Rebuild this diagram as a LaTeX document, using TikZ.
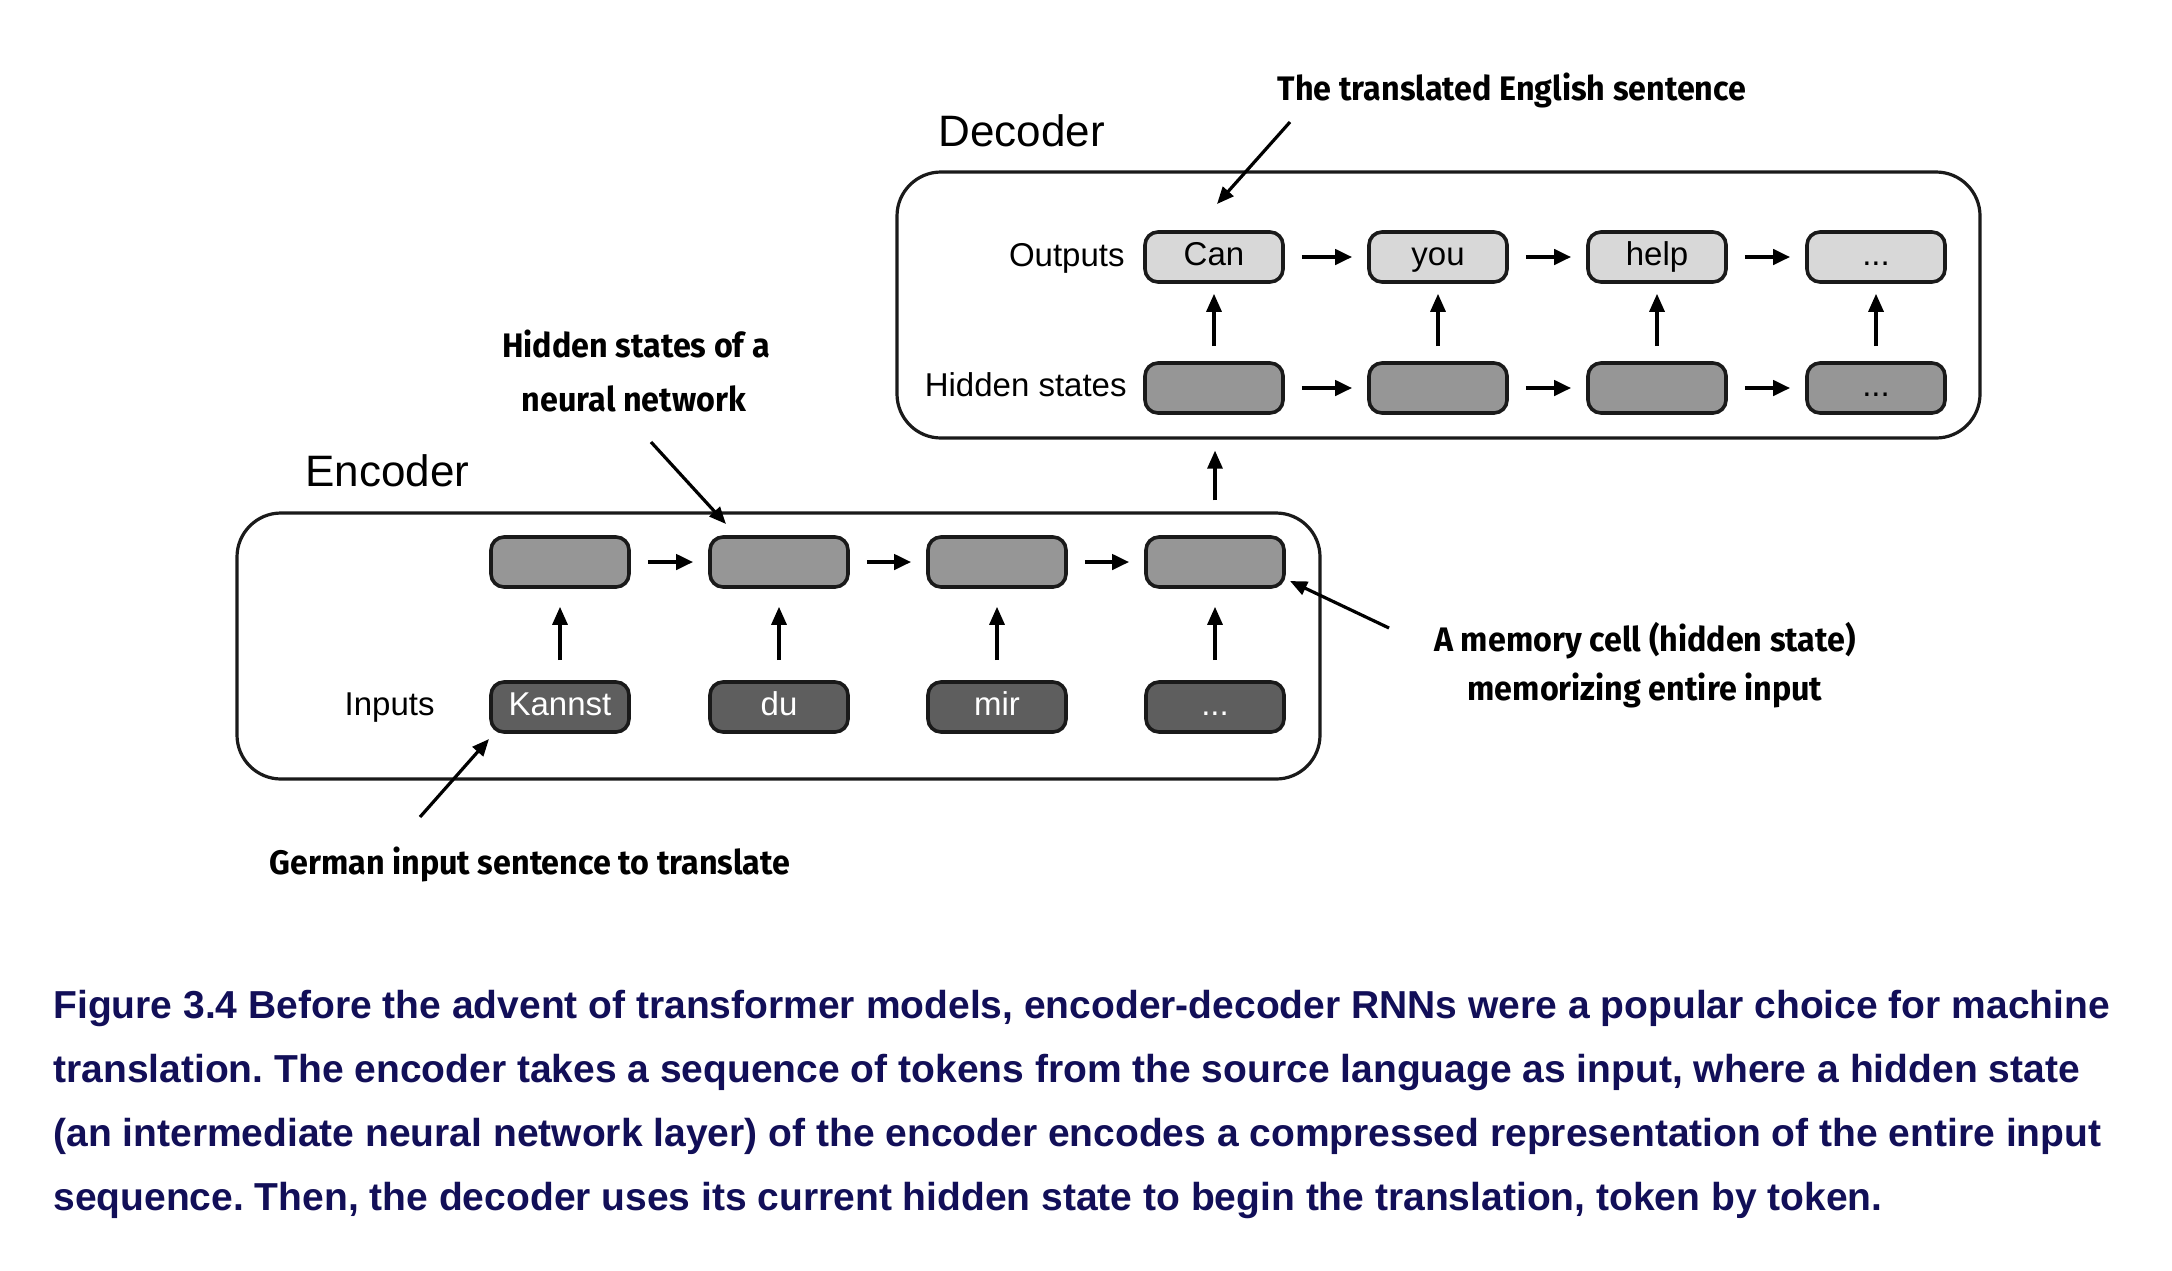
\documentclass[tikz,border=0pt]{standalone}
\usepackage{fontspec}
\setmainfont{Liberation Sans}
\newfontfamily\annotfont[FakeStretch=0.95]{Fira Sans}
\newfontfamily\capfont{Liberation Sans}
\usetikzlibrary{arrows.meta}
\definecolor{navy}{HTML}{120F58}
\definecolor{outgray}{HTML}{D8D8D8}
\definecolor{hidgray}{HTML}{969696}
\definecolor{ingray}{HTML}{5E5E5E}
\definecolor{edge}{HTML}{1A1A1A}
\tikzset{
  cell/.style={draw=edge, line width=1.8pt, rounded corners=6.5pt, minimum width=69pt, minimum height=25pt,
    inner sep=0pt, font=\fontsize{16.5pt}{18pt}\selectfont, text height=11.8pt, text depth=3.4pt},
  outcell/.style={cell, fill=outgray},
  hidcell/.style={cell, fill=hidgray},
  incell/.style={cell, fill=ingray, text=white},
  outerbox/.style={draw=edge, line width=1.6pt, rounded corners=22pt, minimum width=541.5pt, minimum height=133pt, inner sep=0pt},
  harr/.style={-{Triangle[length=8.5pt,width=7.5pt]}, line width=2pt, shorten <=8.5pt, shorten >=7.5pt},
  varr/.style={-{Triangle[length=9pt,width=7.5pt]}, line width=1.6pt},
  annarr/.style={-{Triangle[length=8.5pt,width=7pt]}, line width=1.6pt},
  rowlabel/.style={anchor=base east, inner sep=0pt, font=\fontsize{16.5pt}{18pt}\selectfont},
  titlelabel/.style={anchor=base west, inner sep=0pt, font=\fontsize{22pt}{24pt}\selectfont},
  annot/.style={anchor=base, inner sep=0pt, font=\annotfont\bfseries\fontsize{17pt}{19pt}\selectfont},
  capline/.style={anchor=base west, inner sep=0pt, text=navy, font=\capfont\bfseries\fontsize{19.5pt}{22pt}\selectfont}
}
\begin{document}
\frenchspacing
\begin{tikzpicture}[x=0.5pt,y=-0.5pt]
\useasboundingbox[fill=white] (0,0) rectangle (2172,1270);

% outer boxes
\node[outerbox] (dec) at (1438.5,305) {};
\node[outerbox] (enc) at (778.5,646) {};
\node[titlelabel] (dect) at (938,146) {Decoder};
\node[titlelabel] (enct) at (305,486) {Encoder};

% decoder rows
\node[outcell] (o1) at (1214,257) {Can};
\node[outcell] (o2) at (1438,257) {you};
\node[outcell] (o3) at (1657,257) {help};
\node[outcell] (o4) at (1876,257) {...};
\node[hidcell] (d1) at (1214,388) {};
\node[hidcell] (d2) at (1438,388) {};
\node[hidcell] (d3) at (1657,388) {};
\node[hidcell] (d4) at (1876,388) {...};
\node[rowlabel] (outl) at (1125,266) {Outputs};
\node[rowlabel] (hidl) at (1127,396) {Hidden states};

% encoder rows
\node[hidcell] (e1) at (560,562) {};
\node[hidcell] (e2) at (779,562) {};
\node[hidcell] (e3) at (997,562) {};
\node[hidcell] (e4) at (1215,562) {};
\node[incell] (i1) at (560,707) {Kannst};
\node[incell] (i2) at (779,707) {du};
\node[incell] (i3) at (997,707) {mir};
\node[incell] (i4) at (1215,707) {...};
\node[rowlabel] (inl) at (435,715) {Inputs};

% horizontal arrows
\foreach \a/\b in {o1/o2,o2/o3,o3/o4,d1/d2,d2/d3,d3/d4,e1/e2,e2/e3,e3/e4}
  \draw[harr] (\a.east) -- (\b.west);
% vertical arrows
\foreach \k in {1,2,3,4}{
  \draw[varr, shorten <=7.5pt, shorten >=5pt] (d\k.north) -- (o\k.south);
  \draw[varr, shorten <=10pt, shorten >=9pt] (i\k.north) -- (e\k.south);
}
\draw[varr, shorten <=5.5pt, shorten >=5.5pt] (e4.north |- enc.north) -- (e4.north |- dec.south);

% annotations
\node[annot] (a1) at (1512,100) {The translated English sentence};
\coordinate (a1s) at (1290,122);
\coordinate (a1e) at (1217,204);
\draw[annarr] (a1s) -- (a1e);

\node[annot] (a2) at (636,357) {Hidden states of a};
\node[annot] (a2b) at (634,411) {neural network};
\coordinate (a2s) at (651,442);
\coordinate (a2e) at (726,524);
\draw[annarr] (a2s) -- (a2e);

\node[annot] (a3) at (1645,651) {A memory cell (hidden state)};
\node[annot] (a3b) at (1645,700) {memorizing entire input};
\coordinate (a3s) at (1389,628);
\coordinate (a3e) at (1290,581);
\draw[annarr] (a3s) -- (a3e);

\node[annot, anchor=base west] (a4) at (269,874) {German input sentence to translate};
\coordinate (a4s) at (420,817);
\coordinate (a4e) at (489,739);
\draw[annarr] (a4s) -- (a4e);

% caption
\node[capline] (c1) at (53,1018) {Figure 3.4 Before the advent of transformer models, encoder-decoder RNNs were a popular choice for machine};
\node[capline] (c2) at (53,1082) {translation. The encoder takes a sequence of tokens from the source language as input, where a hidden state};
\node[capline] (c3) at (53,1146) {(an intermediate neural network layer) of the encoder encodes a compressed representation of the entire input};
\node[capline] (c4) at (53,1210) {sequence. Then, the decoder uses its current hidden state to begin the translation, token by token.};
\end{tikzpicture}
\end{document}
